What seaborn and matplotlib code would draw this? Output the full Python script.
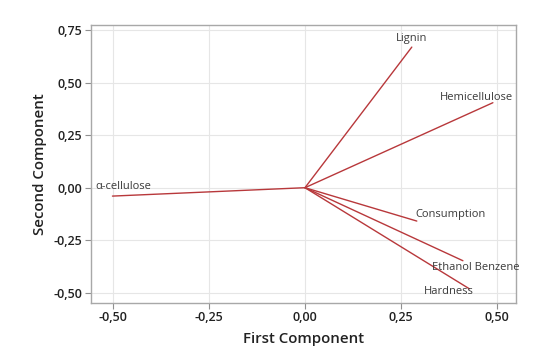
import matplotlib
matplotlib.use("Agg")
import matplotlib.pyplot as plt
import seaborn as sns
import pandas as pd

variables = ["Lignin", "Hemicellulose", "α-cellulose", "Consumption", "Ethanol Benzene", "Hardness"]
first_comp = [0.278, 0.489, -0.501, 0.291, 0.411, 0.428]
second_comp = [0.670, 0.405, -0.040, -0.159, -0.348, -0.482]
x_ticks = [-0.50, -0.25, 0.00, 0.25, 0.50]
y_ticks = [-0.50, -0.25, 0.00, 0.25, 0.50, 0.75]

rows = []
for v, x, y in zip(variables, first_comp, second_comp):
    rows.append({"var": v, "x": 0.0, "y": 0.0, "o": 0})
    rows.append({"var": v, "x": x, "y": y, "o": 1})
df = pd.DataFrame(rows)

sns.set_style("white")
plt.rcParams["font.family"] = ["Open Sans", "DejaVu Sans"]

fig = plt.figure(figsize=(5.38, 3.53), dpi=100)
ax = fig.add_axes([0.169, 0.1425, 0.79, 0.7865])

line_color = "#b8383b"
sns.lineplot(data=df, x="x", y="y", units="var", estimator=None, sort=False,
             color=line_color, linewidth=1.0, ax=ax, legend=False)

ax.set_xlim(-0.557, 0.549)
ax.set_ylim(-0.548, 0.775)
ax.set_xticks(x_ticks)
ax.set_yticks(y_ticks)
ax.set_xticklabels([f"{t:.2f}".replace(".", ",") for t in x_ticks])
ax.set_yticklabels([f"{t:.2f}".replace(".", ",") for t in y_ticks])
ax.grid(True, color="#e6e6e6", linewidth=0.8)
ax.set_axisbelow(True)
for s in ax.spines.values():
    s.set_color("#a8a8a8")
    s.set_linewidth(1.0)
ax.tick_params(axis="both", which="both", length=4, width=0.8, color="#909090",
               labelsize=9, labelcolor="#222222", pad=2, direction="out",
               bottom=True, left=True)
for lab in ax.get_xticklabels() + ax.get_yticklabels():
    lab.set_fontweight("semibold")

ax.set_xlabel("First Component", fontsize=10.8, fontweight="semibold", color="#222222", labelpad=6)
ax.set_ylabel("Second Component", fontsize=10.8, fontweight="semibold", color="#222222", labelpad=5)

# label offsets (points) relative to each endpoint
offsets = {
    "Lignin": (0, 6.5, "center", "center"),
    "Hemicellulose": (14.6, 3.6, "right", "center"),
    "α-cellulose": (-12, 6.7, "left", "center"),
    "Consumption": (-1.2, 4.8, "left", "center"),
    "Ethanol Benzene": (41, -5, "right", "center"),
    "Hardness": (3.4, -2, "right", "center"),
}
for v, x, y in zip(variables, first_comp, second_comp):
    dx, dy, ha, va = offsets[v]
    ax.annotate(v, (x, y), xytext=(dx, dy), textcoords="offset points",
                ha=ha, va=va, fontsize=8, color="#3a3a3a")

fig.savefig("out.png", dpi=100)
